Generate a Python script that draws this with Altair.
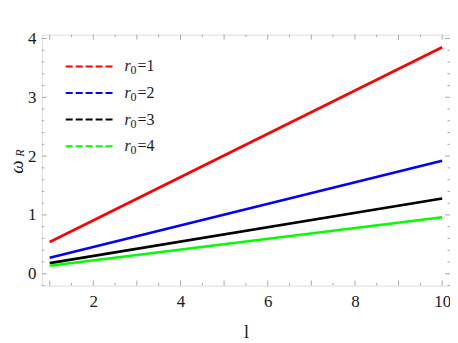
import altair as alt
import pandas as pd

# ---- data ----
l_values = [1, 10]
r0_values = ["1", "2", "3", "4"]
omega_r0_1 = [0.54, 3.85]
omega_r0_2 = [0.27, 1.92]
omega_r0_3 = [0.18, 1.28]
omega_r0_4 = [0.135, 0.96]
line_colors = ["#ff0000", "#0000ff", "#000000", "#00ff00"]

x_labels = [2, 4, 6, 8, 10]
x_major = [1, 2, 3, 4, 5, 6, 7, 8, 9, 10]
x_minor = [1.5, 2.5, 3.5, 4.5, 5.5, 6.5, 7.5, 8.5, 9.5]
y_labels = [0, 1, 2, 3, 4]
y_minor = [-0.2, 0.2, 0.4, 0.6, 0.8, 1.2, 1.4, 1.6, 1.8, 2.2, 2.4, 2.6, 2.8,
           3.2, 3.4, 3.6, 3.8]

W, H = 410, 252
X_DOMAIN = [0.82, 10.18]
Y_DOMAIN = [-0.2, 4.065]
FRAME = "#a8a8a8"
FONT = "'Liberation Serif', 'Times New Roman', 'DejaVu Serif', serif"
TXT = "#1a1a1a"

series = {"1": omega_r0_1, "2": omega_r0_2, "3": omega_r0_3, "4": omega_r0_4}
rows = []
for r0 in r0_values:
    for l, w in zip(l_values, series[r0]):
        rows.append({"l": l, "omega": w, "r0": r0})
df = pd.DataFrame(rows)

xs = alt.Scale(domain=X_DOMAIN, nice=False, zero=False)
ys = alt.Scale(domain=Y_DOMAIN, nice=False, zero=False)
cs = alt.Scale(domain=r0_values, range=line_colors)

x_axis = alt.Axis(values=x_labels, ticks=False, domain=False, grid=False,
                  labelFont=FONT, labelFontSize=17, labelColor=TXT,
                  labelPadding=8, title="l", titleFont=FONT,
                  titleFontSize=18, titleFontWeight="normal",
                  titleColor=TXT, titlePadding=14)

lines = alt.Chart(df).mark_line(strokeWidth=2.6, clip=True).encode(
    x=alt.X("l:Q", scale=xs, axis=x_axis),
    y=alt.Y("omega:Q", scale=ys,
            axis=alt.Axis(values=y_labels, ticks=False, domain=False, grid=False,
                          labelFont=FONT, labelFontSize=17, labelColor=TXT,
                          labelPadding=6, title=None)),
    color=alt.Color("r0:N", scale=cs, legend=None),
    detail="r0:N",
)

# ---- frame ticks (inside, on all four sides) ----
def xticks(vals, length):
    d = pd.DataFrame({"v": vals})
    bottom = alt.Chart(d).mark_rule(color=FRAME, strokeWidth=1).encode(
        x=alt.X("v:Q", scale=xs, axis=x_axis), y=alt.value(H), y2=alt.value(H - length))
    top = alt.Chart(d).mark_rule(color=FRAME, strokeWidth=1).encode(
        x=alt.X("v:Q", scale=xs, axis=x_axis), y=alt.value(0), y2=alt.value(length))
    return [bottom, top]


def yticks(vals, length):
    d = pd.DataFrame({"v": vals})
    left = alt.Chart(d).mark_rule(color=FRAME, strokeWidth=1).encode(
        y=alt.Y("v:Q", scale=ys, axis=None), x=alt.value(0), x2=alt.value(length))
    right = alt.Chart(d).mark_rule(color=FRAME, strokeWidth=1).encode(
        y=alt.Y("v:Q", scale=ys, axis=None), x=alt.value(W), x2=alt.value(W - length))
    return [left, right]


tick_layers = (xticks(x_major, 5) + xticks(x_minor, 2.5)
               + yticks(y_labels, 5) + yticks(y_minor, 2.5))

# ---- y title: omega with subscript R ----
ytitle_w = alt.Chart(pd.DataFrame({"t": ["ω"]})).mark_text(
    font=FONT, fontSize=19, fontStyle="italic", angle=270, color=TXT
).encode(text="t:N", x=alt.value(-25), y=alt.value(133))
ytitle_r = alt.Chart(pd.DataFrame({"t": ["R"]})).mark_text(
    font=FONT, fontSize=12, fontStyle="italic", angle=270, color=TXT
).encode(text="t:N", x=alt.value(-22), y=alt.value(119))

# ---- manual legend ----
leg = pd.DataFrame({"r0": r0_values, "eq": ["=" + r for r in r0_values]})
ly = alt.Y("r0:N", scale=alt.Scale(type="point", range=[32, 112], padding=0),
           axis=None)
leg_lines = alt.Chart(leg).mark_rule(strokeWidth=2, strokeDash=[7, 3]).encode(
    y=ly, x=alt.value(24), x2=alt.value(72),
    color=alt.Color("r0:N", scale=cs, legend=None))
leg_r = alt.Chart(leg).mark_text(
    text="r", font=FONT, fontSize=16, fontStyle="italic", align="left",
    baseline="middle", color=TXT).encode(y=ly, x=alt.value(83))
leg_0 = alt.Chart(leg).mark_text(
    text="0", font=FONT, fontSize=12, align="left", baseline="middle",
    dy=4, color=TXT).encode(y=ly, x=alt.value(89))
leg_eq = alt.Chart(leg).mark_text(
    font=FONT, fontSize=16, align="left", baseline="middle", color=TXT
).encode(y=ly, x=alt.value(96), text="eq:N")
legend = alt.layer(leg_lines, leg_r, leg_0, leg_eq)

chart = alt.layer(
    lines, *tick_layers, ytitle_w, ytitle_r, legend
).resolve_scale(y="independent").properties(
    width=W, height=H,
    autosize=alt.AutoSizeParams(type="none"),
    padding={"left": 34, "top": 26, "right": 0, "bottom": 57},
).configure_view(stroke=FRAME, strokeWidth=1).configure(background="white")

chart.save("out.html", embed_options={"renderer": "svg", "actions": False})
